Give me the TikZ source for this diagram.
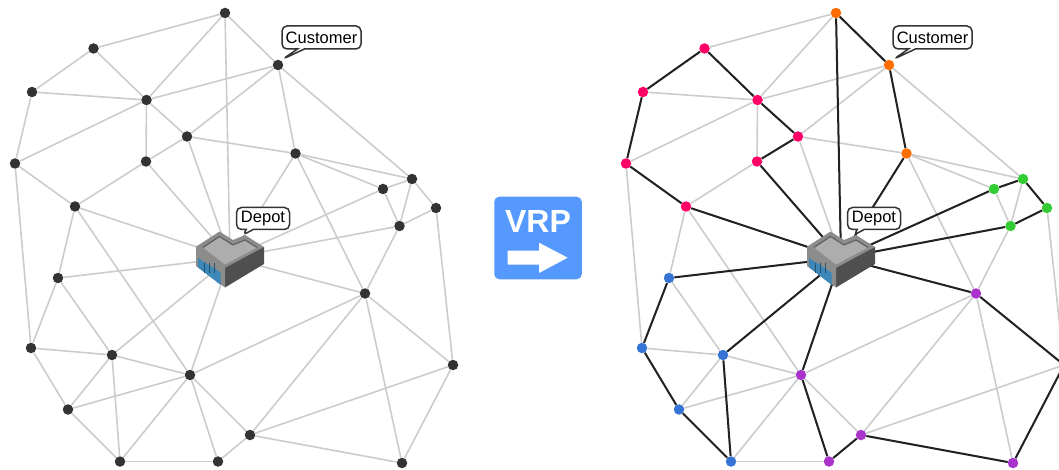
\documentclass[tikz,border=0pt]{standalone}
\usepackage{fontspec}
\setmainfont{Liberation Sans}
\usetikzlibrary{calc, positioning, shapes.callouts}

\definecolor{nodegray}{HTML}{333333}
\definecolor{edgegray}{HTML}{CCCCCC}
\definecolor{routeblack}{HTML}{222222}
\definecolor{vrpblue}{HTML}{5599FF}
\definecolor{cpink}{HTML}{FF0066}
\definecolor{corange}{HTML}{FF6D00}
\definecolor{cgreen}{HTML}{33CC33}
\definecolor{cblue}{HTML}{3574D4}
\definecolor{cpurple}{HTML}{AA33CC}
\definecolor{roofgray}{HTML}{ADADAD}
\definecolor{rimgray}{HTML}{8C8C8C}
\definecolor{wallgray}{HTML}{4F4F4F}
\definecolor{winblue}{HTML}{3C86B8}

% number / x / y / route colour
\newcommand{\custlist}{1/225/13/corange, 2/93.5/48.5/cpink, 3/278/65/corange, 4/32/92/cpink,
  5/146.5/100/cpink, 6/187/136.5/cpink, 7/295.5/153.5/corange, 8/146/161.5/cpink,
  9/15/163.5/cpink, 10/75/206.5/cpink, 11/383/189/cgreen, 12/412/179/cgreen,
  13/436/208/cgreen, 14/399.5/226/cgreen, 15/58/278/cblue, 16/365/293.5/cpurple,
  17/31/348/cblue, 18/112/355/cblue, 19/190/375/cpurple, 20/453/365/cpurple,
  21/68/409.5/cblue, 22/250/435/cpurple, 23/120/461.5/cblue, 24/218/461.5/cpurple,
  25/402/463/cpurple}
\newcommand{\edgelist}{1/2, 1/5, 1/3, 2/4, 2/5, 3/5, 3/6, 3/7, 3/12, 4/5, 4/9, 5/9, 5/6, 5/8,
  6/8, 6/7, 7/12, 7/11, 7/16, 8/10, 9/10, 9/17, 10/15, 10/19, 11/12, 11/14, 12/14, 12/13,
  13/14, 13/20, 14/16, 15/17, 15/18, 16/19, 16/22, 16/25, 16/20, 17/18, 17/21, 18/19, 18/21,
  18/23, 19/21, 19/23, 19/24, 19/22, 20/22, 20/25, 21/23, 22/24, 22/25, 23/24}
\newcommand{\depotedges}{1, 6, 7, 8, 10, 11, 14, 15, 16, 18, 19}
\newcommand{\routelist}{7/3, 3/1, 10/9, 9/4, 4/2, 2/5, 5/6, 6/8, 11/12, 12/13, 13/14,
  15/17, 17/21, 21/23, 23/18, 19/24, 24/22, 22/25, 25/20, 20/16}
\newcommand{\routedepot}{1, 7, 8, 10, 11, 14, 15, 16, 18, 19}

\tikzset{
  custnode/.style={circle, inner sep=0pt, minimum size=10.5pt, fill=#1},
  graphedge/.style={edgegray, line width=1.6pt},
  routeedge/.style={routeblack, line width=2pt},
  bubble/.style={rectangle callout, draw=nodegray, fill=white, line width=1.5pt,
    rounded corners=5pt, inner sep=0pt, callout pointer width=7pt, font=\fontsize{16.5}{18}\selectfont},
  depot/.pic={
    \fill [rimgray] (-34,-11.3) -- (-10.5,-26.5) -- (3,-18) -- (15,-23) -- (34,-11)
      -- (-5,12) -- cycle;
    \fill [wallgray] (34,-11) -- (34,6) -- (-5,29.5) -- (-5,10) -- cycle;
    \fill [rimgray] (-34,-11.3) -- (-5,10) -- (-5,29.5) -- (-34,8) -- cycle;
    \fill [roofgray] (-27,-10.5) -- (-10.5,-21.5) -- (3,-13) -- (15,-18) -- (27,-10.5) -- (-5,6.5) -- cycle;
    \draw [black!65, line width=1pt] (-27,-10.5) -- (-10.5,-21.5) -- (3,-13) -- (15,-18) -- (27,-10.5);
    \fill [winblue] (-32,0) -- (-9.3,14.7) -- (-9.3,27) -- (-32,9.3) -- cycle;
    \foreach \m in {-26,-21,-15.5}
      \draw [winblue!60!black, line width=.7pt] (\m,4.5) -- (\m,15);
  }
}

\begin{document}
\begin{tikzpicture}[x=1pt, y=-1pt]
  \clip (0,0) rectangle (1059,470);
  \foreach \s/\dx in {l/0, r/611} {
    \coordinate (\s-depot) at (230+\dx,258);
    % customers
    \foreach \i/\x/\y/\c in \custlist {
      \ifnum\dx=0 \def\nodefill{nodegray}\else \def\nodefill{\c}\fi
      \node [custnode=\nodefill] (\s\i) at (\x+\dx,\y) {};
    }
    \foreach \a/\b in \edgelist
      \draw [graphedge] (\s\a) -- (\s\b);
    \foreach \a in \depotedges
      \draw [graphedge] (\s\a) -- (\s-depot);
  }
  % routes
  \foreach \a/\b in \routelist
    \draw [routeedge] (r\a) -- (r\b);
  \foreach \a in \routedepot
    \draw [routeedge] (r\a) -- (r-depot);
  \foreach \s/\dx in {l/0, r/611} {
    \node [bubble, minimum width=79pt, minimum height=23pt, callout absolute pointer={(283+\dx,59)}]
      (\s-customer) at (321.5+\dx,37.5) {Customer};
    \node [bubble, minimum width=53pt, minimum height=22pt, callout absolute pointer={(243+\dx,235)}]
      (\s-depotlabel) at (263+\dx,218.5) {Depot};
    \pic at (\s-depot) {depot};
  }
  % middle sign
  \node [fill=vrpblue, rounded corners=5pt, minimum width=87.5pt, minimum height=82.5pt,
    inner sep=0pt] (vrp) at (538,238) {};
  \node [text=white, font=\fontsize{32}{34}\selectfont\bfseries] (vrptext) at (538,221) {VRP};
  \fill [white] (507.7,250.7) -- (539,250.7) -- (539,242.7) -- (567.7,257.7)
    -- (539,273) -- (539,264.5) -- (507.7,264.5) -- cycle;
\end{tikzpicture}
\end{document}
